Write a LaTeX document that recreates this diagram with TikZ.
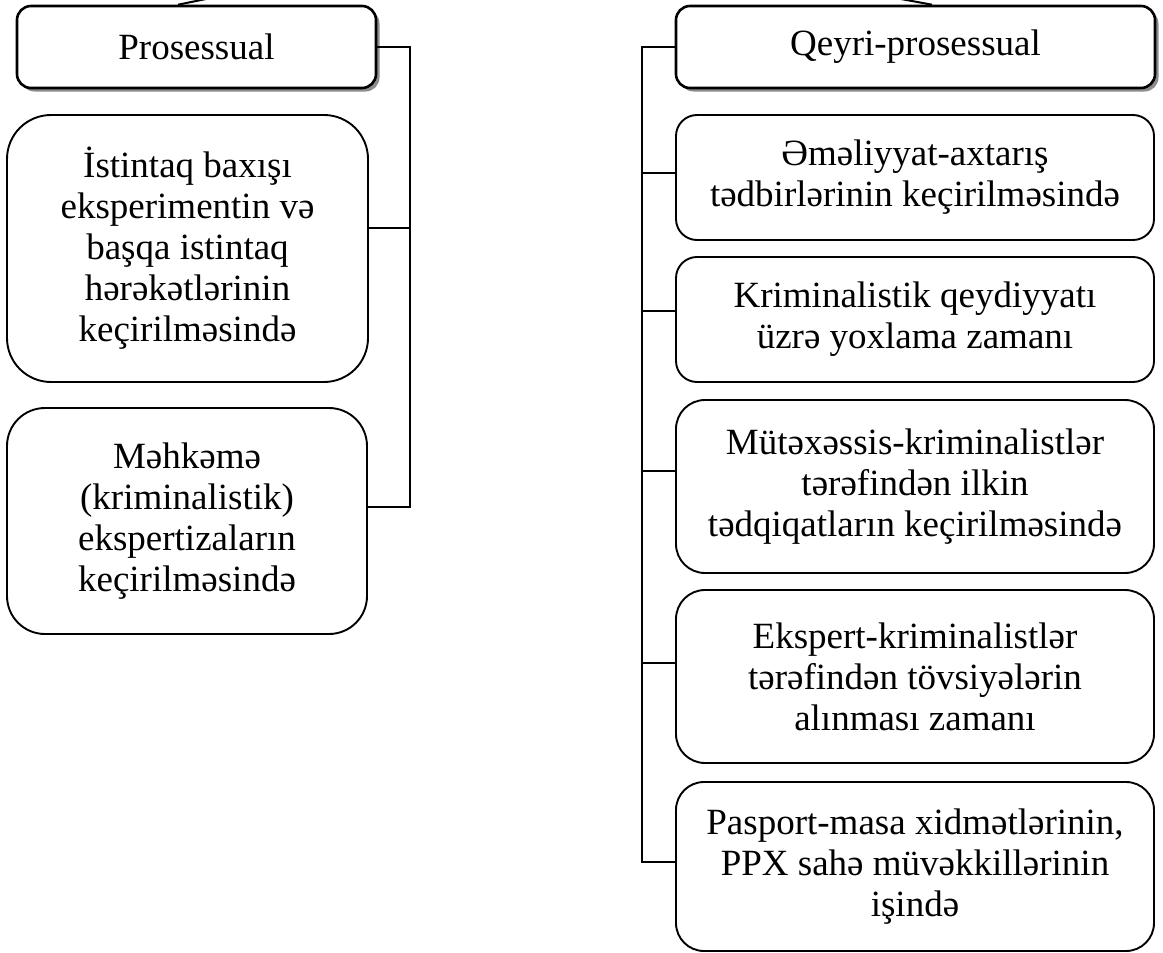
\documentclass[tikz,border=0pt]{standalone}
\usepackage{fontspec}
\setmainfont{Liberation Serif}
\usetikzlibrary{shadows}
\begin{document}
\begin{tikzpicture}[x=1pt,y=-1pt,
  box/.style={draw=black, fill=white, line width=1.9pt, align=center, inner sep=0pt,
    font=\fontsize{37}{41}\selectfont},
  topbox/.style={box, line width=2.6pt,
    drop shadow={shadow xshift=3.5pt, shadow yshift=-3.5pt, fill=black!45, opacity=1}},
  conn/.style={draw=black, line width=2.6pt},
  slant/.style={draw=black, line width=2pt}]
\useasboundingbox (0,0) rectangle (1163,953);

% left column
\node[topbox, minimum width=359pt, minimum height=82pt, rounded corners=14pt] (P) at (196.5,47) {Prosessual};
\node[box, minimum width=361pt, minimum height=267pt, rounded corners=44pt] (B2) at (187.5,248.5)
  {İstintaq baxışı\\eksperimentin və\\başqa istintaq\\hərəkətlərinin\\keçirilməsində};
\node[box, minimum width=360pt, minimum height=226pt, rounded corners=38pt] (B3) at (187,521)
  {Məhkəmə\\(kriminalistik)\\ekspertizaların\\keçirilməsində};

% right column
\node[topbox, minimum width=479pt, minimum height=82pt, rounded corners=14pt] (Q) at (915.5,47) {Qeyri-prosessual};
\node[box, minimum width=478pt, minimum height=125pt, rounded corners=21pt] (C1) at (915,177.5)
  {Əməliyyat-axtarış\\tədbirlərinin keçirilməsində};
\node[box, minimum width=478pt, minimum height=125pt, rounded corners=21pt] (C2) at (915,319.5)
  {Kriminalistik qeydiyyatı\\üzrə yoxlama zamanı};
\node[box, minimum width=478pt, minimum height=173pt, rounded corners=29pt] (C3) at (915,486.5)
  {Mütəxəssis-kriminalistlər\\tərəfindən ilkin\\tədqiqatların keçirilməsində};
\node[box, minimum width=478pt, minimum height=173pt, rounded corners=29pt] (C4) at (915,676.5)
  {Ekspert-kriminalistlər\\tərəfindən tövsiyələrin\\alınması zamanı};
\node[box, minimum width=478pt, minimum height=169pt, rounded corners=28pt] (C5) at (915,866.5)
  {Pasport-masa xidmətlərinin,\\PPX sahə müvəkkillərinin\\işində};

% junction coordinates
\coordinate (jL2) at (410,228);
\coordinate (jL3) at (410,507);
\coordinate (jR1) at (642,173);
\coordinate (jR2) at (642,311);
\coordinate (jR3) at (642,471);
\coordinate (jR4) at (642,663);
\coordinate (jR5) at (642,862);

% left connectors
\draw[conn] (P.east) -| (jL3) -- (B3.east |- jL3);
\draw[conn] (jL2) -- (B2.east |- jL2);

% right connectors
\draw[conn] (Q.west) -| (jR5) -- (C5.west |- jR5);
\draw[conn] (jR1) -- (C1.west |- jR1);
\draw[conn] (jR2) -- (C2.west |- jR2);
\draw[conn] (jR3) -- (C3.west |- jR3);
\draw[conn] (jR4) -- (C4.west |- jR4);

% lines from the (cropped) parent above
\coordinate (sL) at (178,0);
\coordinate (eL) at (206,-1);
\coordinate (sR) at (932,0);
\coordinate (eR) at (901,-1);
\draw[slant] (P.north -| sL) -- (eL);
\draw[slant] (Q.north -| sR) -- (eR);
\end{tikzpicture}
\end{document}
